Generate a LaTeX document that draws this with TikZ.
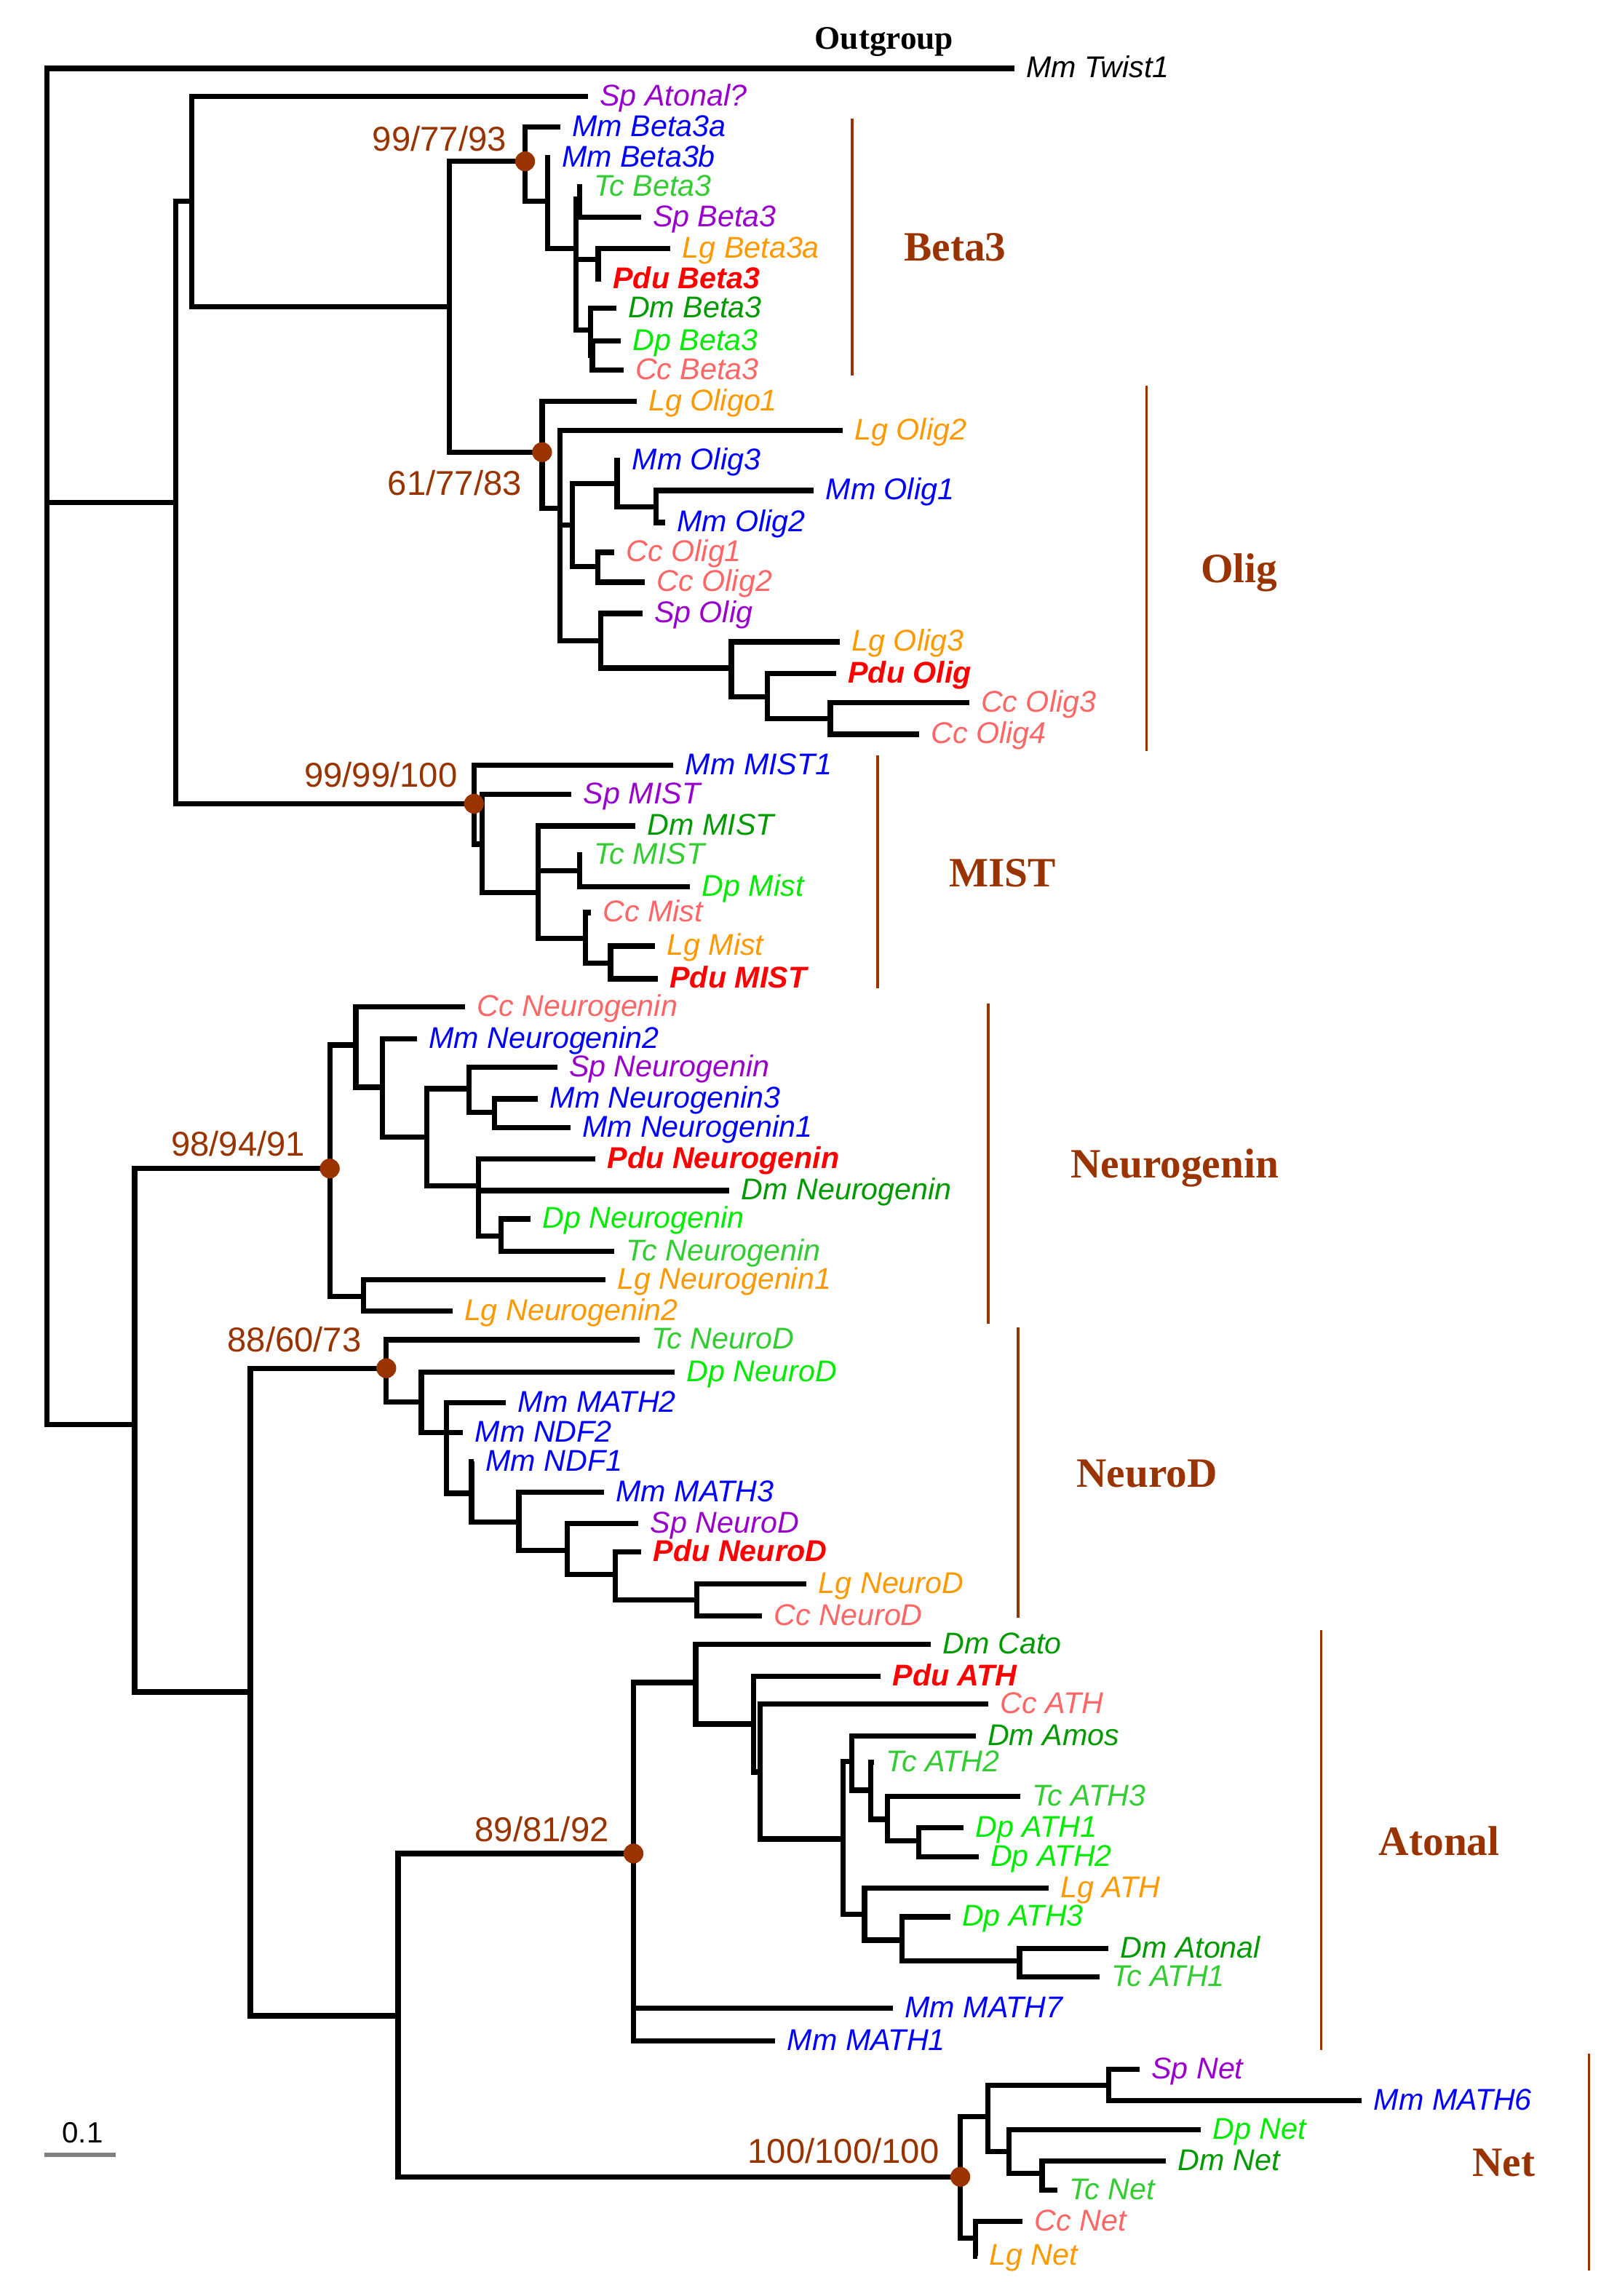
\documentclass[tikz,border=0pt]{standalone}
\usepackage{fontspec}
\setmainfont{Liberation Serif}
\newfontfamily\sansf{Liberation Sans}
\definecolor{brn}{RGB}{153,51,0}
\definecolor{mmc}{RGB}{0,0,255}
\definecolor{spc}{RGB}{153,0,204}
\definecolor{tcc}{RGB}{51,204,51}
\definecolor{dpc}{RGB}{0,235,0}
\definecolor{dmc}{RGB}{0,153,0}
\definecolor{lgc}{RGB}{255,153,0}
\definecolor{ccc}{RGB}{255,102,102}
\definecolor{pdc}{RGB}{255,0,0}
\tikzset{
 br/.style={line width=3.6pt, line join=miter, black},
 lab/.style={anchor=base west, inner sep=0pt, xshift=8pt, yshift=-6.4pt, font=\sansf\itshape\fontsize{20.5}{24}\selectfont},
 mm/.style={lab, text=mmc}, sp/.style={lab, text=spc}, tc/.style={lab, text=tcc},
 dp/.style={lab, text=dpc}, dm/.style={lab, text=dmc}, lg/.style={lab, text=lgc},
 cc/.style={lab, text=ccc}, bk/.style={lab, text=black},
 pdu/.style={lab, text=pdc, font=\sansf\bfseries\itshape\fontsize{20.5}{24}\selectfont},
 supp/.style={anchor=base east, inner sep=0pt, text=brn, font=\sansf\fontsize{23.5}{28}\selectfont},
 grp/.style={anchor=base west, inner sep=0pt, text=brn, font=\bfseries\fontsize{28.5}{34}\selectfont},
 gbar/.style={draw=brn, line width=1.8pt},
}
\newcommand\lf[5]{\coordinate (#1) at (#2,#3); \node[#4] (#1-l) at (#1) {#5};}
\newcommand\ed[2]{\draw[br] (#1) |- (#2);}
\begin{document}
\begin{tikzpicture}[x=1pt,y=-1pt]
\useasboundingbox (0,0) rectangle (1093,1568);
% ---------- internal nodes
\coordinate (R) at (32,343);
\coordinate (A) at (120,343);
\coordinate (A1) at (131,137.5);
\coordinate (A2) at (307,209.4);
\coordinate (Beta) at (358.6,110.2);
\coordinate (B1) at (374,137.4);
\coordinate (B2) at (393.5,169.8);
\coordinate (B2a) at (396,135.8);
\coordinate (B3) at (408.5,177.3);
\coordinate (B4) at (403.3,225.3);
\coordinate (B5) at (404.5,242.6);
\coordinate (Olig) at (370.2,308.8);
\coordinate (O1) at (382.3,347);
\coordinate (O2) at (391,358.5);
\coordinate (O3) at (421.5,330.1);
\coordinate (O4) at (448,346.1);
\coordinate (O5) at (408.2,387);
\coordinate (O6) at (410.1,437.5);
\coordinate (O7) at (499.5,456.2);
\coordinate (O8) at (524.2,475.7);
\coordinate (O9) at (567.1,490.8);
\coordinate (MIST) at (323.7,548.9);
\coordinate (M1) at (329.4,576.5);
\coordinate (M2) at (367.5,609.7);
\coordinate (M3) at (396,594.7);
\coordinate (M4) at (399.8,640.8);
\coordinate (M5) at (417,657.7);
\coordinate (B) at (92,973);
\coordinate (Ngn) at (225.2,798);
\coordinate (N1) at (243,713.7);
\coordinate (N2) at (261.3,742.5);
\coordinate (N3) at (291.6,776.7);
\coordinate (N4) at (320.4,743.5);
\coordinate (N5) at (337.6,759.6);
\coordinate (N6) at (326.6,809.8);
\coordinate (N7) at (342.3,844.1);
\coordinate (N8) at (248.2,885.5);
\coordinate (C) at (171,1155.5);
\coordinate (ND) at (263.8,934.4);
\coordinate (D1) at (287.8,957.3);
\coordinate (D2) at (304.9,978.3);
\coordinate (D3) at (322,1019.8);
\coordinate (D4) at (354.3,1039.6);
\coordinate (D5) at (387.4,1058.7);
\coordinate (D6) at (420.1,1075.3);
\coordinate (D7) at (476,1092.6);
\coordinate (E) at (271.9,1376.6);
\coordinate (Ato) at (432.6,1265.8);
\coordinate (T1) at (475.1,1149);
\coordinate (T2) at (514.8,1177.3);
\coordinate (T3) at (519,1210.1);
\coordinate (T4) at (575.7,1255.9);
\coordinate (T5) at (581.8,1202.8);
\coordinate (T6) at (594.8,1222.6);
\coordinate (T7) at (606,1242.5);
\coordinate (T8) at (627.5,1257.3);
\coordinate (T9) at (590.4,1307.4);
\coordinate (T10) at (616,1324.9);
\coordinate (T11) at (696.3,1339.1);
\coordinate (Net) at (655.8,1486.6);
\coordinate (Q1) at (674.8,1445.5);
\coordinate (Q2) at (757.3,1424);
\coordinate (Q3) at (688.9,1469.5);
\coordinate (Q4) at (711.7,1484.1);
\coordinate (Q5) at (666.1,1528.3);
% ---------- leaves
\lf{Twist}{692.7}{46.7}{bk}{Mm Twist1}
\lf{SpAt}{401.5}{66}{sp}{Sp Atonal?}
\lf{MmB3a}{382.7}{86.9}{mm}{Mm Beta3a}
\lf{MmB3b}{375.5}{107.7}{mm}{Mm Beta3b}
\lf{TcB3}{397.5}{127.6}{tc}{Tc Beta3}
\lf{SpB3}{437.6}{148.3}{sp}{Sp Beta3}
\lf{LgB3a}{457.9}{169.8}{lg}{Lg Beta3a}
\lf{PduB3}{410.5}{190.5}{pdu}{Pdu Beta3}
\lf{DmB3}{420.7}{210.4}{dm}{Dm Beta3}
\lf{DpB3}{424}{232.7}{dp}{Dp Beta3}
\lf{CcB3}{425.7}{252.6}{cc}{Cc Beta3}
\lf{LgOligo1}{434.8}{274.2}{lg}{Lg Oligo1}
\lf{LgOlig2}{575.5}{293.8}{lg}{Lg Olig2}
\lf{MmOlig3}{423.5}{314.2}{mm}{Mm Olig3}
\lf{MmOlig1}{555.7}{335}{mm}{Mm Olig1}
\lf{MmOlig2}{454}{356.8}{mm}{Mm Olig2}
\lf{CcOlig1}{419.6}{377.2}{cc}{Cc Olig1}
\lf{CcOlig2}{440.5}{397.6}{cc}{Cc Olig2}
\lf{SpOlig}{438.6}{418.9}{sp}{Sp Olig}
\lf{LgOlig3}{573.6}{438.4}{lg}{Lg Olig3}
\lf{PduOlig}{571}{460.1}{pdu}{Pdu Olig}
\lf{CcOlig3}{661.8}{479.8}{cc}{Cc Olig3}
\lf{CcOlig4}{627.6}{501.4}{cc}{Cc Olig4}
\lf{MmMIST1}{459.9}{522.7}{mm}{Mm MIST1}
\lf{SpMIST}{390.3}{542.6}{sp}{Sp MIST}
\lf{DmMIST}{434}{564.1}{dm}{Dm MIST}
\lf{TcMIST}{397.5}{584}{tc}{Tc MIST}
\lf{DpMist}{471.3}{605.5}{dp}{Dp Mist}
\lf{CcMist}{403.5}{623.2}{cc}{Cc Mist}
\lf{LgMist}{447.3}{646.1}{lg}{Lg Mist}
\lf{PduMIST}{449.2}{668.5}{pdu}{Pdu MIST}
\lf{CcNgn}{317.8}{687.5}{cc}{Cc Neurogenin}
\lf{MmNgn2}{284.8}{709.4}{mm}{Mm Neurogenin2}
\lf{SpNgn}{380.5}{729}{sp}{Sp Neurogenin}
\lf{MmNgn3}{367.4}{750.5}{mm}{Mm Neurogenin3}
\lf{MmNgn1}{389.4}{770}{mm}{Mm Neurogenin1}
\lf{PduNgn}{406.7}{791.6}{pdu}{Pdu Neurogenin}
\lf{DmNgn}{498.2}{813.1}{dm}{Dm Neurogenin}
\lf{DpNgn}{362.2}{832.5}{dp}{Dp Neurogenin}
\lf{TcNgn}{419.7}{854.4}{tc}{Tc Neurogenin}
\lf{LgNgn1}{413.5}{873.9}{lg}{Lg Neurogenin1}
\lf{LgNgn2}{308.9}{895.5}{lg}{Lg Neurogenin2}
\lf{TcND}{436.8}{915}{tc}{Tc NeuroD}
\lf{DpND}{460.8}{936.9}{dp}{Dp NeuroD}
\lf{MmMATH2}{345.6}{958}{mm}{Mm MATH2}
\lf{MmNDF2}{316.3}{978.3}{mm}{Mm NDF2}
\lf{MmNDF1}{323.5}{998.2}{mm}{Mm NDF1}
\lf{MmMATH3}{412.5}{1018.9}{mm}{Mm MATH3}
\lf{SpND}{436.1}{1040.5}{sp}{Sp NeuroD}
\lf{PduND}{438}{1060}{pdu}{Pdu NeuroD}
\lf{LgND}{550.9}{1081.6}{lg}{Lg NeuroD}
\lf{CcND}{520.5}{1103.7}{cc}{Cc NeuroD}
\lf{DmCato}{635.8}{1122.9}{dm}{Dm Cato}
\lf{PduATH}{601.4}{1144.8}{pdu}{Pdu ATH}
\lf{CcATH}{675.1}{1163.8}{cc}{Cc ATH}
\lf{DmAmos}{666.3}{1185.4}{dm}{Dm Amos}
\lf{TcATH2}{597}{1203.6}{tc}{Tc ATH2}
\lf{TcATH3}{696.6}{1226.7}{tc}{Tc ATH3}
\lf{DpATH1}{658}{1248.3}{dp}{Dp ATH1}
\lf{DpATH2}{668.3}{1268.2}{dp}{Dp ATH2}
\lf{LgATH}{716.1}{1289.6}{lg}{Lg ATH}
\lf{DpATH3}{648.9}{1309}{dp}{Dp ATH3}
\lf{DmAtonal}{756.9}{1330.8}{dm}{Dm Atonal}
\lf{TcATH1}{750.7}{1349.9}{tc}{Tc ATH1}
\lf{MmMATH7}{609.8}{1371.5}{mm}{Mm MATH7}
\lf{MmMATH1}{529.5}{1393.7}{mm}{Mm MATH1}
\lf{SpNet}{778.2}{1413.2}{sp}{Sp Net}
\lf{MmMATH6}{930.1}{1434.7}{mm}{Mm MATH6}
\lf{DpNet}{820}{1454.3}{dp}{Dp Net}
\lf{DmNet}{796.4}{1475.8}{dm}{Dm Net}
\lf{TcNet}{721.9}{1495.7}{tc}{Tc Net}
\lf{CcNet}{698.4}{1517.2}{cc}{Cc Net}
\lf{LgNet}{667.5}{1540.7}{lg}{Lg Net}
% ---------- branches
\ed{R}{Twist}\ed{R}{A}\ed{R}{B}
\ed{A}{A1}\ed{A}{MIST}
\ed{A1}{SpAt}\ed{A1}{A2}
\ed{A2}{Beta}\ed{A2}{Olig}
\ed{Beta}{MmB3a}\ed{Beta}{B1}
\ed{B1}{MmB3b}\ed{B1}{B2}
\ed{B2}{B2a}\ed{B2}{B3}\ed{B2}{B4}
\ed{B2a}{TcB3}\ed{B2a}{SpB3}
\ed{B3}{LgB3a}\ed{B3}{PduB3}
\ed{B4}{DmB3}\ed{B4}{B5}
\ed{B5}{DpB3}\ed{B5}{CcB3}
\ed{Olig}{LgOligo1}\ed{Olig}{O1}
\ed{O1}{LgOlig2}\ed{O1}{O2}\ed{O1}{O6}
\ed{O2}{O3}\ed{O2}{O5}
\ed{O3}{MmOlig3}\ed{O3}{O4}
\ed{O4}{MmOlig1}\ed{O4}{MmOlig2}
\ed{O5}{CcOlig1}\ed{O5}{CcOlig2}
\ed{O6}{SpOlig}\ed{O6}{O7}
\ed{O7}{LgOlig3}\ed{O7}{O8}
\ed{O8}{PduOlig}\ed{O8}{O9}
\ed{O9}{CcOlig3}\ed{O9}{CcOlig4}
\ed{MIST}{MmMIST1}\ed{MIST}{M1}
\ed{M1}{SpMIST}\ed{M1}{M2}
\ed{M2}{DmMIST}\ed{M2}{M3}\ed{M2}{M4}
\ed{M3}{TcMIST}\ed{M3}{DpMist}
\ed{M4}{CcMist}\ed{M4}{M5}
\ed{M5}{LgMist}\ed{M5}{PduMIST}
\ed{B}{Ngn}\ed{B}{C}
\ed{Ngn}{N1}\ed{Ngn}{N8}
\ed{N1}{CcNgn}\ed{N1}{N2}
\ed{N2}{MmNgn2}\ed{N2}{N3}
\ed{N3}{N4}\ed{N3}{N6}
\ed{N4}{SpNgn}\ed{N4}{N5}
\ed{N5}{MmNgn3}\ed{N5}{MmNgn1}
\ed{N6}{PduNgn}\ed{N6}{DmNgn}\ed{N6}{N7}
\ed{N7}{DpNgn}\ed{N7}{TcNgn}
\ed{N8}{LgNgn1}\ed{N8}{LgNgn2}
\ed{C}{ND}\ed{C}{E}
\ed{ND}{TcND}\ed{ND}{D1}
\ed{D1}{DpND}\ed{D1}{D2}
\ed{D2}{MmMATH2}\ed{D2}{MmNDF2}\ed{D2}{D3}
\ed{D3}{MmNDF1}\ed{D3}{D4}
\ed{D4}{MmMATH3}\ed{D4}{D5}
\ed{D5}{SpND}\ed{D5}{D6}
\ed{D6}{PduND}\ed{D6}{D7}
\ed{D7}{LgND}\ed{D7}{CcND}
\ed{E}{Ato}\ed{E}{Net}
\ed{Ato}{T1}\ed{Ato}{MmMATH7}\ed{Ato}{MmMATH1}
\ed{T1}{DmCato}\ed{T1}{T2}
\ed{T2}{PduATH}\ed{T2}{T3}
\ed{T3}{CcATH}\ed{T3}{T4}
\ed{T4}{T5}\ed{T4}{T9}
\ed{T5}{DmAmos}\ed{T5}{T6}
\ed{T6}{TcATH2}\ed{T6}{T7}
\ed{T7}{TcATH3}\ed{T7}{T8}
\ed{T8}{DpATH1}\ed{T8}{DpATH2}
\ed{T9}{LgATH}\ed{T9}{T10}
\ed{T10}{DpATH3}\ed{T10}{T11}
\ed{T11}{DmAtonal}\ed{T11}{TcATH1}
\ed{Net}{Q1}\ed{Net}{Q5}
\ed{Q1}{Q2}\ed{Q1}{Q3}
\ed{Q2}{SpNet}\ed{Q2}{MmMATH6}
\ed{Q3}{DpNet}\ed{Q3}{Q4}
\ed{Q4}{DmNet}\ed{Q4}{TcNet}
\ed{Q5}{CcNet}\ed{Q5}{LgNet}
% ---------- support dots
\foreach \n in {Beta,Olig,MIST,Ngn,ND,Ato,Net}{\fill[brn] (\n) circle[radius=6.8pt];}
% ---------- support values
\node[supp] (s1) at (346,103) {99/77/93};
\node[supp] (s2) at (356.5,338) {61/77/83};
\node[supp] (s3) at (312.5,537.3) {99/99/100};
\node[supp] (s4) at (208.5,789.4) {98/94/91};
\node[supp] (s5) at (247,923.3) {88/60/73};
\node[supp] (s6) at (416,1257.4) {89/81/92};
\node[supp] (s7) at (641.5,1477.5) {100/100/100};
% ---------- group bars and labels
\coordinate (g1a) at (582,80.8); \coordinate (g1b) at (582,256.5);
\coordinate (g2a) at (783,263.6); \coordinate (g2b) at (783,513);
\coordinate (g3a) at (599.4,516); \coordinate (g3b) at (599.4,675);
\coordinate (g4a) at (675,685.5); \coordinate (g4b) at (675,904);
\coordinate (g5a) at (695.4,906.5); \coordinate (g5b) at (695.4,1105);
\coordinate (g6a) at (902.3,1113); \coordinate (g6b) at (902.3,1400);
\coordinate (g7a) at (1085.2,1402.4); \coordinate (g7b) at (1085.2,1550.7);
\foreach \g in {1,...,7}{\draw[gbar] (g\g a) -- (g\g b);}
\node[grp] (lBeta) at (617.3,178.4) {Beta3};
\node[grp] (lOlig) at (820,397.6) {Olig};
\node[grp] (lMIST) at (648,605.5) {MIST};
\node[grp] (lNgn) at (731,804.3) {Neurogenin};
\node[grp] (lND) at (735,1015.5) {NeuroD};
\node[grp] (lAto) at (941.5,1267.3) {Atonal};
\node[grp] (lNet) at (1005.4,1486.4) {Net};
\node[anchor=base west, inner sep=0pt, font=\bfseries\fontsize{22.5}{27}\selectfont] (outg) at (556.3,33.7) {Outgroup};
% ---------- scale bar
\coordinate (sbA) at (30.1,1471.6); \coordinate (sbB) at (79.2,1471.6);
\draw[line width=3pt, draw=gray] (sbA) -- (sbB);
\node[anchor=base, inner sep=0pt, font=\sansf\fontsize{20}{24}\selectfont] (sbl) at (56.4,1463.2) {0.1};
\end{tikzpicture}
\end{document}
